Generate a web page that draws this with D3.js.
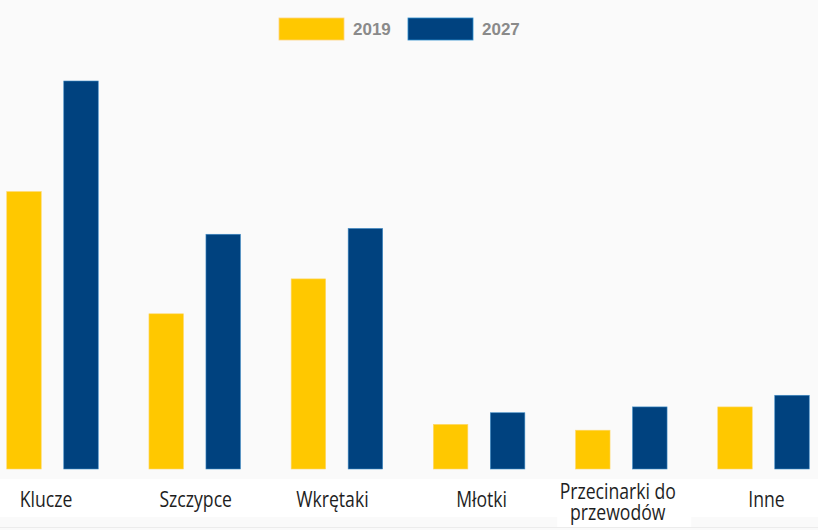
<!DOCTYPE html>
<html>
<head>
<meta charset="utf-8">
<script src="https://cdn.jsdelivr.net/npm/d3@7"></script>
<style>
  html, body { margin: 0; padding: 0; background: #fafafa; }
  svg { display: block; }
</style>
</head>
<body>
<script>
// data
const categories = ["Klucze", "Szczypce", "Wkrętaki", "Młotki", "Przecinarki do przewodów", "Inne"];
const labelLines = [["Klucze"], ["Szczypce"], ["Wkrętaki"], ["Młotki"], ["Przecinarki do", "przewodów"], ["Inne"]];
const seriesNames = ["2019", "2027"];
const values2019 = [1.43, 0.80, 0.98, 0.23, 0.20, 0.32];
const values2027 = [2.00, 1.21, 1.24, 0.29, 0.32, 0.38];
const colors = ["#ffc800", "#00427f"];

const w = 818;
const h = 530;
const baseline = 469;
const plotTop = 81;
// small horizontal nudges of the labels (they are not exactly centred)
const labelNudge = [-6.5, 1, -4.5, 2.5, -3.5, 3];

const svg = d3
  .select("body")
  .append("svg")
  .attr("width", w)
  .attr("height", h);

// background strips
svg.append("rect").attr("x", 0).attr("y", 0).attr("width", w).attr("height", h).attr("fill", "#fafafa");
svg.append("rect").attr("x", 0).attr("y", 479).attr("width", w).attr("height", 38).attr("fill", "#ffffff");
svg.append("rect").attr("x", 0).attr("y", 527).attr("width", w).attr("height", 1).attr("fill", "#ececec");

/* ######## Scales ######### */
const xScale = d3
  .scaleBand()
  .domain(categories)
  .range([-18.6, 834.6])
  .padding(0);

const xInner = d3
  .scaleBand()
  .domain(seriesNames)
  .range([-45.75, 45.75])
  .paddingInner(0.395)
  .paddingOuter(0);

const yScale = d3
  .scaleLinear()
  .domain([0, 2.0])
  .range([baseline, plotTop]);

const color = d3.scaleOrdinal().domain(seriesNames).range(colors);

const rows = categories.map(function (c, i) {
  return { cat: c, vals: [
    { key: "2019", value: values2019[i] },
    { key: "2027", value: values2027[i] }
  ] };
});

// white patch behind the wrapped label
svg
  .append("rect")
  .attr("x", xScale(categories[4]) + xScale.bandwidth() / 2 - 64)
  .attr("y", 510)
  .attr("width", 134)
  .attr("height", 17)
  .attr("fill", "#ffffff");

// ###### bars ###########
const groups = svg
  .selectAll("g.group")
  .data(rows)
  .enter()
  .append("g")
  .attr("class", "group")
  .attr("transform", function (d) {
    return "translate(" + (xScale(d.cat) + xScale.bandwidth() / 2) + ",0)";
  });

groups
  .selectAll("rect")
  .data(function (d) { return d.vals; })
  .enter()
  .append("rect")
  .attr("x", function (d) { return xInner(d.key); })
  .attr("y", function (d) { return yScale(d.value); })
  .attr("width", xInner.bandwidth())
  .attr("height", function (d) { return baseline - yScale(d.value); })
  .attr("fill", function (d) { return color(d.key); })
  .attr("stroke", function (d) { return d.key === "2027" ? "#3f8cc6" : "#ffd86a"; })
  .attr("stroke-width", 0.6);

// category labels
const labels = svg
  .selectAll("text.cat")
  .data(labelLines)
  .enter()
  .append("text")
  .attr("class", "cat")
  .attr("transform", function (d, i) {
    const cx = xScale(categories[i]) + xScale.bandwidth() / 2 + labelNudge[i];
    const y = d.length > 1 ? 499 : 507;
    return "translate(" + cx + "," + y + ") scale(0.84,1)";
  })
  .attr("text-anchor", "middle")
  .style("font-family", "'Open Sans', sans-serif")
  .style("font-size", "21px")
  .attr("fill", "#1e1e1e");

labels
  .selectAll("tspan")
  .data(function (d) { return d; })
  .enter()
  .append("tspan")
  .attr("x", 0)
  .attr("dy", function (d, i) { return i === 0 ? 0 : 21; })
  .text(function (d) { return d; });

// legend
const legendX = [279, 408];
const legend = svg
  .selectAll("g.legend")
  .data(seriesNames)
  .enter()
  .append("g")
  .attr("class", "legend")
  .attr("transform", function (d, i) { return "translate(" + legendX[i] + ",18)"; });

legend
  .append("rect")
  .attr("width", 65)
  .attr("height", 22)
  .attr("fill", function (d) { return color(d); })
  .attr("stroke", function (d) { return d === "2027" ? "#2a8ccc" : "#ffd27a"; })
  .attr("stroke-width", 0.8);

legend
  .append("text")
  .attr("x", 74)
  .attr("y", 17)
  .style("font-family", "'Liberation Sans', Arial, sans-serif")
  .style("font-size", "17px")
  .style("font-weight", "bold")
  .attr("fill", "#8a8a8a")
  .text(function (d) { return d; });
</script>
</body>
</html>
